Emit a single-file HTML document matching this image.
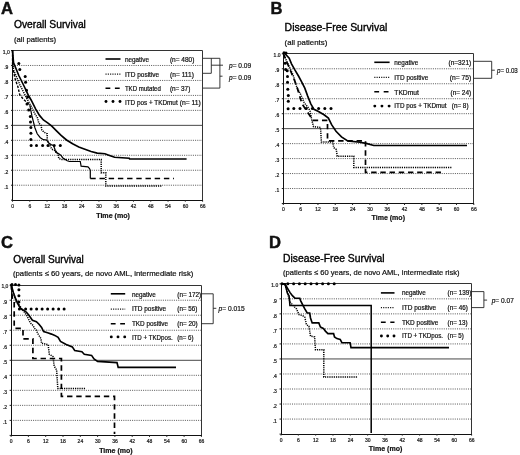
<!DOCTYPE html>
<html><head><meta charset="utf-8"><title>Survival curves</title>
<style>html,body{margin:0;padding:0;background:#fff;width:520px;height:455px;overflow:hidden;font-family:"Liberation Sans", sans-serif}</style>
</head><body>
<svg width="520" height="455" viewBox="0 0 520 455" style="position:absolute;left:0;top:0;font-family:'Liberation Sans', sans-serif;filter:blur(0.35px)">
<rect width="520" height="455" fill="#fff"/>
<text x="0.90" y="13.60" font-size="16.6" font-weight="bold" text-anchor="start" stroke="#111" stroke-width="0.45" style="" fill="#111">A</text>
<text x="13.90" y="28.20" font-size="10.3" font-weight="normal" text-anchor="start" stroke="#000" stroke-width="0.35" textLength="72" lengthAdjust="spacingAndGlyphs" style="" fill="#000">Overall Survival</text>
<text x="13.90" y="41.50" font-size="7.6" font-weight="normal" text-anchor="start" stroke="#111" stroke-width="0.2" textLength="42.3" lengthAdjust="spacingAndGlyphs" style="" fill="#111">(all patients)</text>
<line x1="12.50" y1="185.23" x2="202.60" y2="185.23" stroke="#444" stroke-width="0.9" stroke-dasharray="1 1.2" stroke-linecap="butt"/>
<line x1="12.50" y1="170.26" x2="202.60" y2="170.26" stroke="#444" stroke-width="0.9" stroke-dasharray="1 1.2" stroke-linecap="butt"/>
<line x1="12.50" y1="155.29" x2="202.60" y2="155.29" stroke="#444" stroke-width="0.9" stroke-dasharray="1 1.2" stroke-linecap="butt"/>
<line x1="12.50" y1="140.32" x2="202.60" y2="140.32" stroke="#444" stroke-width="0.9" stroke-dasharray="1 1.2" stroke-linecap="butt"/>
<line x1="12.50" y1="125.35" x2="202.60" y2="125.35" stroke="#333" stroke-width="0.9" stroke-linecap="butt"/>
<line x1="12.50" y1="110.38" x2="202.60" y2="110.38" stroke="#444" stroke-width="0.9" stroke-dasharray="1 1.2" stroke-linecap="butt"/>
<line x1="12.50" y1="95.41" x2="202.60" y2="95.41" stroke="#444" stroke-width="0.9" stroke-dasharray="1 1.2" stroke-linecap="butt"/>
<line x1="12.50" y1="80.44" x2="202.60" y2="80.44" stroke="#444" stroke-width="0.9" stroke-dasharray="1 1.2" stroke-linecap="butt"/>
<line x1="12.50" y1="65.47" x2="202.60" y2="65.47" stroke="#444" stroke-width="0.9" stroke-dasharray="1 1.2" stroke-linecap="butt"/>
<line x1="12.50" y1="50.50" x2="202.50" y2="50.50" stroke="#333" stroke-width="1.0" stroke-linecap="butt"/>
<line x1="202.50" y1="50.50" x2="202.50" y2="200.50" stroke="#333" stroke-width="1.0" stroke-linecap="butt"/>
<line x1="12.50" y1="50.00" x2="12.50" y2="201.00" stroke="#111" stroke-width="1.0" stroke-linecap="butt"/>
<line x1="12.00" y1="200.50" x2="203.00" y2="200.50" stroke="#111" stroke-width="1.0" stroke-linecap="butt"/>
<line x1="11.00" y1="200.20" x2="12.50" y2="200.20" stroke="#222" stroke-width="1" stroke-linecap="butt"/>
<line x1="11.00" y1="185.23" x2="12.50" y2="185.23" stroke="#222" stroke-width="1" stroke-linecap="butt"/>
<line x1="11.00" y1="170.26" x2="12.50" y2="170.26" stroke="#222" stroke-width="1" stroke-linecap="butt"/>
<line x1="11.00" y1="155.29" x2="12.50" y2="155.29" stroke="#222" stroke-width="1" stroke-linecap="butt"/>
<line x1="11.00" y1="140.32" x2="12.50" y2="140.32" stroke="#222" stroke-width="1" stroke-linecap="butt"/>
<line x1="11.00" y1="125.35" x2="12.50" y2="125.35" stroke="#222" stroke-width="1" stroke-linecap="butt"/>
<line x1="11.00" y1="110.38" x2="12.50" y2="110.38" stroke="#222" stroke-width="1" stroke-linecap="butt"/>
<line x1="11.00" y1="95.41" x2="12.50" y2="95.41" stroke="#222" stroke-width="1" stroke-linecap="butt"/>
<line x1="11.00" y1="80.44" x2="12.50" y2="80.44" stroke="#222" stroke-width="1" stroke-linecap="butt"/>
<line x1="11.00" y1="65.47" x2="12.50" y2="65.47" stroke="#222" stroke-width="1" stroke-linecap="butt"/>
<line x1="11.00" y1="50.50" x2="12.50" y2="50.50" stroke="#222" stroke-width="1" stroke-linecap="butt"/>
<line x1="12.50" y1="200.20" x2="12.50" y2="201.70" stroke="#222" stroke-width="1" stroke-linecap="butt"/>
<line x1="29.78" y1="200.20" x2="29.78" y2="201.70" stroke="#222" stroke-width="1" stroke-linecap="butt"/>
<line x1="47.06" y1="200.20" x2="47.06" y2="201.70" stroke="#222" stroke-width="1" stroke-linecap="butt"/>
<line x1="64.35" y1="200.20" x2="64.35" y2="201.70" stroke="#222" stroke-width="1" stroke-linecap="butt"/>
<line x1="81.63" y1="200.20" x2="81.63" y2="201.70" stroke="#222" stroke-width="1" stroke-linecap="butt"/>
<line x1="98.91" y1="200.20" x2="98.91" y2="201.70" stroke="#222" stroke-width="1" stroke-linecap="butt"/>
<line x1="116.19" y1="200.20" x2="116.19" y2="201.70" stroke="#222" stroke-width="1" stroke-linecap="butt"/>
<line x1="133.47" y1="200.20" x2="133.47" y2="201.70" stroke="#222" stroke-width="1" stroke-linecap="butt"/>
<line x1="150.75" y1="200.20" x2="150.75" y2="201.70" stroke="#222" stroke-width="1" stroke-linecap="butt"/>
<line x1="168.04" y1="200.20" x2="168.04" y2="201.70" stroke="#222" stroke-width="1" stroke-linecap="butt"/>
<line x1="185.32" y1="200.20" x2="185.32" y2="201.70" stroke="#222" stroke-width="1" stroke-linecap="butt"/>
<line x1="202.60" y1="200.20" x2="202.60" y2="201.70" stroke="#222" stroke-width="1" stroke-linecap="butt"/>
<text x="6.30" y="188.93" font-size="5.0" font-weight="normal" text-anchor="middle" stroke="#222" stroke-width="0.22" style="" fill="#222">.1</text>
<text x="6.30" y="173.96" font-size="5.0" font-weight="normal" text-anchor="middle" stroke="#222" stroke-width="0.22" style="" fill="#222">.2</text>
<text x="6.30" y="158.99" font-size="5.0" font-weight="normal" text-anchor="middle" stroke="#222" stroke-width="0.22" style="" fill="#222">.3</text>
<text x="6.30" y="144.02" font-size="5.0" font-weight="normal" text-anchor="middle" stroke="#222" stroke-width="0.22" style="" fill="#222">.4</text>
<text x="6.30" y="129.05" font-size="5.0" font-weight="normal" text-anchor="middle" stroke="#222" stroke-width="0.22" style="" fill="#222">.5</text>
<text x="6.30" y="114.08" font-size="5.0" font-weight="normal" text-anchor="middle" stroke="#222" stroke-width="0.22" style="" fill="#222">.6</text>
<text x="6.30" y="99.11" font-size="5.0" font-weight="normal" text-anchor="middle" stroke="#222" stroke-width="0.22" style="" fill="#222">.7</text>
<text x="6.30" y="84.14" font-size="5.0" font-weight="normal" text-anchor="middle" stroke="#222" stroke-width="0.22" style="" fill="#222">.8</text>
<text x="6.30" y="69.17" font-size="5.0" font-weight="normal" text-anchor="middle" stroke="#222" stroke-width="0.22" style="" fill="#222">.9</text>
<text x="6.30" y="53.50" font-size="5.0" font-weight="normal" text-anchor="middle" stroke="#222" stroke-width="0.22" style="" fill="#222">1,0</text>
<text x="12.60" y="208.00" font-size="5.0" font-weight="normal" text-anchor="middle" stroke="#222" stroke-width="0.22" style="" fill="#222">0</text>
<text x="29.88" y="208.00" font-size="5.0" font-weight="normal" text-anchor="middle" stroke="#222" stroke-width="0.22" style="" fill="#222">6</text>
<text x="47.16" y="208.00" font-size="5.0" font-weight="normal" text-anchor="middle" stroke="#222" stroke-width="0.22" style="" fill="#222">12</text>
<text x="64.45" y="208.00" font-size="5.0" font-weight="normal" text-anchor="middle" stroke="#222" stroke-width="0.22" style="" fill="#222">18</text>
<text x="81.73" y="208.00" font-size="5.0" font-weight="normal" text-anchor="middle" stroke="#222" stroke-width="0.22" style="" fill="#222">24</text>
<text x="99.01" y="208.00" font-size="5.0" font-weight="normal" text-anchor="middle" stroke="#222" stroke-width="0.22" style="" fill="#222">30</text>
<text x="116.29" y="208.00" font-size="5.0" font-weight="normal" text-anchor="middle" stroke="#222" stroke-width="0.22" style="" fill="#222">36</text>
<text x="133.57" y="208.00" font-size="5.0" font-weight="normal" text-anchor="middle" stroke="#222" stroke-width="0.22" style="" fill="#222">42</text>
<text x="150.85" y="208.00" font-size="5.0" font-weight="normal" text-anchor="middle" stroke="#222" stroke-width="0.22" style="" fill="#222">48</text>
<text x="168.14" y="208.00" font-size="5.0" font-weight="normal" text-anchor="middle" stroke="#222" stroke-width="0.22" style="" fill="#222">54</text>
<text x="185.42" y="208.00" font-size="5.0" font-weight="normal" text-anchor="middle" stroke="#222" stroke-width="0.22" style="" fill="#222">60</text>
<text x="202.70" y="208.00" font-size="5.0" font-weight="normal" text-anchor="middle" stroke="#222" stroke-width="0.22" style="" fill="#222">66</text>
<text x="96.20" y="217.80" font-size="7" font-weight="bold" text-anchor="start" stroke="#111" stroke-width="0.2" textLength="33.8" lengthAdjust="spacingAndGlyphs" style="" fill="#111">Time (mo)</text>
<text x="270.60" y="14.00" font-size="16.6" font-weight="bold" text-anchor="start" stroke="#111" stroke-width="0.45" style="" fill="#111">B</text>
<text x="284.60" y="31.00" font-size="10.3" font-weight="normal" text-anchor="start" stroke="#000" stroke-width="0.35" textLength="102.7" lengthAdjust="spacingAndGlyphs" style="" fill="#000">Disease-Free Survival</text>
<text x="284.60" y="44.60" font-size="7.6" font-weight="normal" text-anchor="start" stroke="#111" stroke-width="0.2" textLength="42.7" lengthAdjust="spacingAndGlyphs" style="" fill="#111">(all patients)</text>
<line x1="283.30" y1="188.53" x2="473.80" y2="188.53" stroke="#444" stroke-width="0.9" stroke-dasharray="1 1.2" stroke-linecap="butt"/>
<line x1="283.30" y1="173.56" x2="473.80" y2="173.56" stroke="#444" stroke-width="0.9" stroke-dasharray="1 1.2" stroke-linecap="butt"/>
<line x1="283.30" y1="158.59" x2="473.80" y2="158.59" stroke="#444" stroke-width="0.9" stroke-dasharray="1 1.2" stroke-linecap="butt"/>
<line x1="283.30" y1="143.62" x2="473.80" y2="143.62" stroke="#444" stroke-width="0.9" stroke-dasharray="1 1.2" stroke-linecap="butt"/>
<line x1="283.30" y1="128.65" x2="473.80" y2="128.65" stroke="#333" stroke-width="0.9" stroke-linecap="butt"/>
<line x1="283.30" y1="113.68" x2="473.80" y2="113.68" stroke="#444" stroke-width="0.9" stroke-dasharray="1 1.2" stroke-linecap="butt"/>
<line x1="283.30" y1="98.71" x2="473.80" y2="98.71" stroke="#444" stroke-width="0.9" stroke-dasharray="1 1.2" stroke-linecap="butt"/>
<line x1="283.30" y1="83.74" x2="473.80" y2="83.74" stroke="#444" stroke-width="0.9" stroke-dasharray="1 1.2" stroke-linecap="butt"/>
<line x1="283.30" y1="68.77" x2="473.80" y2="68.77" stroke="#444" stroke-width="0.9" stroke-dasharray="1 1.2" stroke-linecap="butt"/>
<line x1="283.50" y1="53.50" x2="473.50" y2="53.50" stroke="#333" stroke-width="1.0" stroke-linecap="butt"/>
<line x1="473.50" y1="53.50" x2="473.50" y2="203.50" stroke="#333" stroke-width="1.0" stroke-linecap="butt"/>
<line x1="283.50" y1="53.00" x2="283.50" y2="204.00" stroke="#111" stroke-width="1.0" stroke-linecap="butt"/>
<line x1="283.00" y1="203.50" x2="474.00" y2="203.50" stroke="#111" stroke-width="1.0" stroke-linecap="butt"/>
<line x1="281.80" y1="203.50" x2="283.30" y2="203.50" stroke="#222" stroke-width="1" stroke-linecap="butt"/>
<line x1="281.80" y1="188.53" x2="283.30" y2="188.53" stroke="#222" stroke-width="1" stroke-linecap="butt"/>
<line x1="281.80" y1="173.56" x2="283.30" y2="173.56" stroke="#222" stroke-width="1" stroke-linecap="butt"/>
<line x1="281.80" y1="158.59" x2="283.30" y2="158.59" stroke="#222" stroke-width="1" stroke-linecap="butt"/>
<line x1="281.80" y1="143.62" x2="283.30" y2="143.62" stroke="#222" stroke-width="1" stroke-linecap="butt"/>
<line x1="281.80" y1="128.65" x2="283.30" y2="128.65" stroke="#222" stroke-width="1" stroke-linecap="butt"/>
<line x1="281.80" y1="113.68" x2="283.30" y2="113.68" stroke="#222" stroke-width="1" stroke-linecap="butt"/>
<line x1="281.80" y1="98.71" x2="283.30" y2="98.71" stroke="#222" stroke-width="1" stroke-linecap="butt"/>
<line x1="281.80" y1="83.74" x2="283.30" y2="83.74" stroke="#222" stroke-width="1" stroke-linecap="butt"/>
<line x1="281.80" y1="68.77" x2="283.30" y2="68.77" stroke="#222" stroke-width="1" stroke-linecap="butt"/>
<line x1="281.80" y1="53.80" x2="283.30" y2="53.80" stroke="#222" stroke-width="1" stroke-linecap="butt"/>
<line x1="283.30" y1="203.50" x2="283.30" y2="205.00" stroke="#222" stroke-width="1" stroke-linecap="butt"/>
<line x1="300.62" y1="203.50" x2="300.62" y2="205.00" stroke="#222" stroke-width="1" stroke-linecap="butt"/>
<line x1="317.94" y1="203.50" x2="317.94" y2="205.00" stroke="#222" stroke-width="1" stroke-linecap="butt"/>
<line x1="335.25" y1="203.50" x2="335.25" y2="205.00" stroke="#222" stroke-width="1" stroke-linecap="butt"/>
<line x1="352.57" y1="203.50" x2="352.57" y2="205.00" stroke="#222" stroke-width="1" stroke-linecap="butt"/>
<line x1="369.89" y1="203.50" x2="369.89" y2="205.00" stroke="#222" stroke-width="1" stroke-linecap="butt"/>
<line x1="387.21" y1="203.50" x2="387.21" y2="205.00" stroke="#222" stroke-width="1" stroke-linecap="butt"/>
<line x1="404.53" y1="203.50" x2="404.53" y2="205.00" stroke="#222" stroke-width="1" stroke-linecap="butt"/>
<line x1="421.85" y1="203.50" x2="421.85" y2="205.00" stroke="#222" stroke-width="1" stroke-linecap="butt"/>
<line x1="439.16" y1="203.50" x2="439.16" y2="205.00" stroke="#222" stroke-width="1" stroke-linecap="butt"/>
<line x1="456.48" y1="203.50" x2="456.48" y2="205.00" stroke="#222" stroke-width="1" stroke-linecap="butt"/>
<line x1="473.80" y1="203.50" x2="473.80" y2="205.00" stroke="#222" stroke-width="1" stroke-linecap="butt"/>
<text x="277.10" y="192.23" font-size="5.0" font-weight="normal" text-anchor="middle" stroke="#222" stroke-width="0.22" style="" fill="#222">.1</text>
<text x="277.10" y="177.26" font-size="5.0" font-weight="normal" text-anchor="middle" stroke="#222" stroke-width="0.22" style="" fill="#222">.2</text>
<text x="277.10" y="162.29" font-size="5.0" font-weight="normal" text-anchor="middle" stroke="#222" stroke-width="0.22" style="" fill="#222">.3</text>
<text x="277.10" y="147.32" font-size="5.0" font-weight="normal" text-anchor="middle" stroke="#222" stroke-width="0.22" style="" fill="#222">.4</text>
<text x="277.10" y="132.35" font-size="5.0" font-weight="normal" text-anchor="middle" stroke="#222" stroke-width="0.22" style="" fill="#222">.5</text>
<text x="277.10" y="117.38" font-size="5.0" font-weight="normal" text-anchor="middle" stroke="#222" stroke-width="0.22" style="" fill="#222">.6</text>
<text x="277.10" y="102.41" font-size="5.0" font-weight="normal" text-anchor="middle" stroke="#222" stroke-width="0.22" style="" fill="#222">.7</text>
<text x="277.10" y="87.44" font-size="5.0" font-weight="normal" text-anchor="middle" stroke="#222" stroke-width="0.22" style="" fill="#222">.8</text>
<text x="277.10" y="72.47" font-size="5.0" font-weight="normal" text-anchor="middle" stroke="#222" stroke-width="0.22" style="" fill="#222">.9</text>
<text x="277.10" y="56.80" font-size="5.0" font-weight="normal" text-anchor="middle" stroke="#222" stroke-width="0.22" style="" fill="#222">1.0</text>
<text x="283.40" y="211.30" font-size="5.0" font-weight="normal" text-anchor="middle" stroke="#222" stroke-width="0.22" style="" fill="#222">0</text>
<text x="300.72" y="211.30" font-size="5.0" font-weight="normal" text-anchor="middle" stroke="#222" stroke-width="0.22" style="" fill="#222">6</text>
<text x="318.04" y="211.30" font-size="5.0" font-weight="normal" text-anchor="middle" stroke="#222" stroke-width="0.22" style="" fill="#222">12</text>
<text x="335.35" y="211.30" font-size="5.0" font-weight="normal" text-anchor="middle" stroke="#222" stroke-width="0.22" style="" fill="#222">18</text>
<text x="352.67" y="211.30" font-size="5.0" font-weight="normal" text-anchor="middle" stroke="#222" stroke-width="0.22" style="" fill="#222">24</text>
<text x="369.99" y="211.30" font-size="5.0" font-weight="normal" text-anchor="middle" stroke="#222" stroke-width="0.22" style="" fill="#222">30</text>
<text x="387.31" y="211.30" font-size="5.0" font-weight="normal" text-anchor="middle" stroke="#222" stroke-width="0.22" style="" fill="#222">36</text>
<text x="404.63" y="211.30" font-size="5.0" font-weight="normal" text-anchor="middle" stroke="#222" stroke-width="0.22" style="" fill="#222">42</text>
<text x="421.95" y="211.30" font-size="5.0" font-weight="normal" text-anchor="middle" stroke="#222" stroke-width="0.22" style="" fill="#222">48</text>
<text x="439.26" y="211.30" font-size="5.0" font-weight="normal" text-anchor="middle" stroke="#222" stroke-width="0.22" style="" fill="#222">54</text>
<text x="456.58" y="211.30" font-size="5.0" font-weight="normal" text-anchor="middle" stroke="#222" stroke-width="0.22" style="" fill="#222">60</text>
<text x="473.90" y="211.30" font-size="5.0" font-weight="normal" text-anchor="middle" stroke="#222" stroke-width="0.22" style="" fill="#222">66</text>
<text x="371.50" y="220.40" font-size="7" font-weight="bold" text-anchor="start" stroke="#111" stroke-width="0.2" textLength="33.5" lengthAdjust="spacingAndGlyphs" style="" fill="#111">Time (mo)</text>
<text x="1.00" y="247.60" font-size="16.6" font-weight="bold" text-anchor="start" stroke="#111" stroke-width="0.45" style="" fill="#111">C</text>
<text x="13.30" y="262.60" font-size="10.3" font-weight="normal" text-anchor="start" stroke="#000" stroke-width="0.35" textLength="70.5" lengthAdjust="spacingAndGlyphs" style="" fill="#000">Overall Survival</text>
<text x="13.00" y="276.30" font-size="7.4" font-weight="normal" text-anchor="start" stroke="#111" stroke-width="0.2" textLength="180.3" lengthAdjust="spacingAndGlyphs" style="" fill="#111">(patients ≤ 60 years, de novo AML, intermediate risk)</text>
<line x1="11.10" y1="420.38" x2="201.40" y2="420.38" stroke="#444" stroke-width="0.9" stroke-dasharray="1 1.2" stroke-linecap="butt"/>
<line x1="11.10" y1="405.36" x2="201.40" y2="405.36" stroke="#444" stroke-width="0.9" stroke-dasharray="1 1.2" stroke-linecap="butt"/>
<line x1="11.10" y1="390.34" x2="201.40" y2="390.34" stroke="#444" stroke-width="0.9" stroke-dasharray="1 1.2" stroke-linecap="butt"/>
<line x1="11.10" y1="375.32" x2="201.40" y2="375.32" stroke="#444" stroke-width="0.9" stroke-dasharray="1 1.2" stroke-linecap="butt"/>
<line x1="11.10" y1="360.30" x2="201.40" y2="360.30" stroke="#333" stroke-width="0.9" stroke-linecap="butt"/>
<line x1="11.10" y1="345.28" x2="201.40" y2="345.28" stroke="#444" stroke-width="0.9" stroke-dasharray="1 1.2" stroke-linecap="butt"/>
<line x1="11.10" y1="330.26" x2="201.40" y2="330.26" stroke="#444" stroke-width="0.9" stroke-dasharray="1 1.2" stroke-linecap="butt"/>
<line x1="11.10" y1="315.24" x2="201.40" y2="315.24" stroke="#444" stroke-width="0.9" stroke-dasharray="1 1.2" stroke-linecap="butt"/>
<line x1="11.10" y1="300.22" x2="201.40" y2="300.22" stroke="#444" stroke-width="0.9" stroke-dasharray="1 1.2" stroke-linecap="butt"/>
<line x1="11.50" y1="285.50" x2="201.50" y2="285.50" stroke="#333" stroke-width="1.0" stroke-linecap="butt"/>
<line x1="201.50" y1="285.50" x2="201.50" y2="435.50" stroke="#333" stroke-width="1.0" stroke-linecap="butt"/>
<line x1="11.50" y1="285.00" x2="11.50" y2="436.00" stroke="#111" stroke-width="1.0" stroke-linecap="butt"/>
<line x1="11.00" y1="435.50" x2="202.00" y2="435.50" stroke="#111" stroke-width="1.0" stroke-linecap="butt"/>
<line x1="9.60" y1="435.40" x2="11.10" y2="435.40" stroke="#222" stroke-width="1" stroke-linecap="butt"/>
<line x1="9.60" y1="420.38" x2="11.10" y2="420.38" stroke="#222" stroke-width="1" stroke-linecap="butt"/>
<line x1="9.60" y1="405.36" x2="11.10" y2="405.36" stroke="#222" stroke-width="1" stroke-linecap="butt"/>
<line x1="9.60" y1="390.34" x2="11.10" y2="390.34" stroke="#222" stroke-width="1" stroke-linecap="butt"/>
<line x1="9.60" y1="375.32" x2="11.10" y2="375.32" stroke="#222" stroke-width="1" stroke-linecap="butt"/>
<line x1="9.60" y1="360.30" x2="11.10" y2="360.30" stroke="#222" stroke-width="1" stroke-linecap="butt"/>
<line x1="9.60" y1="345.28" x2="11.10" y2="345.28" stroke="#222" stroke-width="1" stroke-linecap="butt"/>
<line x1="9.60" y1="330.26" x2="11.10" y2="330.26" stroke="#222" stroke-width="1" stroke-linecap="butt"/>
<line x1="9.60" y1="315.24" x2="11.10" y2="315.24" stroke="#222" stroke-width="1" stroke-linecap="butt"/>
<line x1="9.60" y1="300.22" x2="11.10" y2="300.22" stroke="#222" stroke-width="1" stroke-linecap="butt"/>
<line x1="9.60" y1="285.20" x2="11.10" y2="285.20" stroke="#222" stroke-width="1" stroke-linecap="butt"/>
<line x1="11.10" y1="435.40" x2="11.10" y2="436.90" stroke="#222" stroke-width="1" stroke-linecap="butt"/>
<line x1="28.40" y1="435.40" x2="28.40" y2="436.90" stroke="#222" stroke-width="1" stroke-linecap="butt"/>
<line x1="45.70" y1="435.40" x2="45.70" y2="436.90" stroke="#222" stroke-width="1" stroke-linecap="butt"/>
<line x1="63.00" y1="435.40" x2="63.00" y2="436.90" stroke="#222" stroke-width="1" stroke-linecap="butt"/>
<line x1="80.30" y1="435.40" x2="80.30" y2="436.90" stroke="#222" stroke-width="1" stroke-linecap="butt"/>
<line x1="97.60" y1="435.40" x2="97.60" y2="436.90" stroke="#222" stroke-width="1" stroke-linecap="butt"/>
<line x1="114.90" y1="435.40" x2="114.90" y2="436.90" stroke="#222" stroke-width="1" stroke-linecap="butt"/>
<line x1="132.20" y1="435.40" x2="132.20" y2="436.90" stroke="#222" stroke-width="1" stroke-linecap="butt"/>
<line x1="149.50" y1="435.40" x2="149.50" y2="436.90" stroke="#222" stroke-width="1" stroke-linecap="butt"/>
<line x1="166.80" y1="435.40" x2="166.80" y2="436.90" stroke="#222" stroke-width="1" stroke-linecap="butt"/>
<line x1="184.10" y1="435.40" x2="184.10" y2="436.90" stroke="#222" stroke-width="1" stroke-linecap="butt"/>
<line x1="201.40" y1="435.40" x2="201.40" y2="436.90" stroke="#222" stroke-width="1" stroke-linecap="butt"/>
<text x="4.90" y="424.08" font-size="5.0" font-weight="normal" text-anchor="middle" stroke="#222" stroke-width="0.22" style="" fill="#222">.1</text>
<text x="4.90" y="409.06" font-size="5.0" font-weight="normal" text-anchor="middle" stroke="#222" stroke-width="0.22" style="" fill="#222">.2</text>
<text x="4.90" y="394.04" font-size="5.0" font-weight="normal" text-anchor="middle" stroke="#222" stroke-width="0.22" style="" fill="#222">.3</text>
<text x="4.90" y="379.02" font-size="5.0" font-weight="normal" text-anchor="middle" stroke="#222" stroke-width="0.22" style="" fill="#222">.4</text>
<text x="4.90" y="364.00" font-size="5.0" font-weight="normal" text-anchor="middle" stroke="#222" stroke-width="0.22" style="" fill="#222">.5</text>
<text x="4.90" y="348.98" font-size="5.0" font-weight="normal" text-anchor="middle" stroke="#222" stroke-width="0.22" style="" fill="#222">.6</text>
<text x="4.90" y="333.96" font-size="5.0" font-weight="normal" text-anchor="middle" stroke="#222" stroke-width="0.22" style="" fill="#222">.7</text>
<text x="4.90" y="318.94" font-size="5.0" font-weight="normal" text-anchor="middle" stroke="#222" stroke-width="0.22" style="" fill="#222">.8</text>
<text x="4.90" y="303.92" font-size="5.0" font-weight="normal" text-anchor="middle" stroke="#222" stroke-width="0.22" style="" fill="#222">.9</text>
<text x="4.90" y="288.20" font-size="5.0" font-weight="normal" text-anchor="middle" stroke="#222" stroke-width="0.22" style="" fill="#222">1,0</text>
<text x="11.20" y="443.20" font-size="5.0" font-weight="normal" text-anchor="middle" stroke="#222" stroke-width="0.22" style="" fill="#222">0</text>
<text x="28.50" y="443.20" font-size="5.0" font-weight="normal" text-anchor="middle" stroke="#222" stroke-width="0.22" style="" fill="#222">6</text>
<text x="45.80" y="443.20" font-size="5.0" font-weight="normal" text-anchor="middle" stroke="#222" stroke-width="0.22" style="" fill="#222">12</text>
<text x="63.10" y="443.20" font-size="5.0" font-weight="normal" text-anchor="middle" stroke="#222" stroke-width="0.22" style="" fill="#222">18</text>
<text x="80.40" y="443.20" font-size="5.0" font-weight="normal" text-anchor="middle" stroke="#222" stroke-width="0.22" style="" fill="#222">24</text>
<text x="97.70" y="443.20" font-size="5.0" font-weight="normal" text-anchor="middle" stroke="#222" stroke-width="0.22" style="" fill="#222">30</text>
<text x="115.00" y="443.20" font-size="5.0" font-weight="normal" text-anchor="middle" stroke="#222" stroke-width="0.22" style="" fill="#222">36</text>
<text x="132.30" y="443.20" font-size="5.0" font-weight="normal" text-anchor="middle" stroke="#222" stroke-width="0.22" style="" fill="#222">42</text>
<text x="149.60" y="443.20" font-size="5.0" font-weight="normal" text-anchor="middle" stroke="#222" stroke-width="0.22" style="" fill="#222">48</text>
<text x="166.90" y="443.20" font-size="5.0" font-weight="normal" text-anchor="middle" stroke="#222" stroke-width="0.22" style="" fill="#222">54</text>
<text x="184.20" y="443.20" font-size="5.0" font-weight="normal" text-anchor="middle" stroke="#222" stroke-width="0.22" style="" fill="#222">60</text>
<text x="201.50" y="443.20" font-size="5.0" font-weight="normal" text-anchor="middle" stroke="#222" stroke-width="0.22" style="" fill="#222">66</text>
<text x="99.20" y="452.60" font-size="7" font-weight="bold" text-anchor="start" stroke="#111" stroke-width="0.2" textLength="33.5" lengthAdjust="spacingAndGlyphs" style="" fill="#111">Time (mo)</text>
<text x="269.00" y="248.00" font-size="16.6" font-weight="bold" text-anchor="start" stroke="#111" stroke-width="0.45" style="" fill="#111">D</text>
<text x="283.00" y="261.80" font-size="10.3" font-weight="normal" text-anchor="start" stroke="#000" stroke-width="0.35" textLength="101.6" lengthAdjust="spacingAndGlyphs" style="" fill="#000">Disease-Free Survival</text>
<text x="283.00" y="274.90" font-size="7.4" font-weight="normal" text-anchor="start" stroke="#111" stroke-width="0.2" textLength="176.6" lengthAdjust="spacingAndGlyphs" style="" fill="#111">(patients ≤ 60 years, de novo AML, intermediate risk)</text>
<line x1="281.00" y1="419.07" x2="471.60" y2="419.07" stroke="#444" stroke-width="0.9" stroke-dasharray="1 1.2" stroke-linecap="butt"/>
<line x1="281.00" y1="404.04" x2="471.60" y2="404.04" stroke="#444" stroke-width="0.9" stroke-dasharray="1 1.2" stroke-linecap="butt"/>
<line x1="281.00" y1="389.01" x2="471.60" y2="389.01" stroke="#444" stroke-width="0.9" stroke-dasharray="1 1.2" stroke-linecap="butt"/>
<line x1="281.00" y1="373.98" x2="471.60" y2="373.98" stroke="#444" stroke-width="0.9" stroke-dasharray="1 1.2" stroke-linecap="butt"/>
<line x1="281.00" y1="358.95" x2="471.60" y2="358.95" stroke="#333" stroke-width="0.9" stroke-linecap="butt"/>
<line x1="281.00" y1="343.92" x2="471.60" y2="343.92" stroke="#444" stroke-width="0.9" stroke-dasharray="1 1.2" stroke-linecap="butt"/>
<line x1="281.00" y1="328.89" x2="471.60" y2="328.89" stroke="#444" stroke-width="0.9" stroke-dasharray="1 1.2" stroke-linecap="butt"/>
<line x1="281.00" y1="313.86" x2="471.60" y2="313.86" stroke="#444" stroke-width="0.9" stroke-dasharray="1 1.2" stroke-linecap="butt"/>
<line x1="281.00" y1="298.83" x2="471.60" y2="298.83" stroke="#444" stroke-width="0.9" stroke-dasharray="1 1.2" stroke-linecap="butt"/>
<line x1="281.50" y1="283.50" x2="471.50" y2="283.50" stroke="#333" stroke-width="1.0" stroke-linecap="butt"/>
<line x1="471.50" y1="283.50" x2="471.50" y2="434.50" stroke="#333" stroke-width="1.0" stroke-linecap="butt"/>
<line x1="281.50" y1="283.00" x2="281.50" y2="435.00" stroke="#111" stroke-width="1.0" stroke-linecap="butt"/>
<line x1="281.00" y1="434.50" x2="472.00" y2="434.50" stroke="#111" stroke-width="1.0" stroke-linecap="butt"/>
<line x1="279.50" y1="434.10" x2="281.00" y2="434.10" stroke="#222" stroke-width="1" stroke-linecap="butt"/>
<line x1="279.50" y1="419.07" x2="281.00" y2="419.07" stroke="#222" stroke-width="1" stroke-linecap="butt"/>
<line x1="279.50" y1="404.04" x2="281.00" y2="404.04" stroke="#222" stroke-width="1" stroke-linecap="butt"/>
<line x1="279.50" y1="389.01" x2="281.00" y2="389.01" stroke="#222" stroke-width="1" stroke-linecap="butt"/>
<line x1="279.50" y1="373.98" x2="281.00" y2="373.98" stroke="#222" stroke-width="1" stroke-linecap="butt"/>
<line x1="279.50" y1="358.95" x2="281.00" y2="358.95" stroke="#222" stroke-width="1" stroke-linecap="butt"/>
<line x1="279.50" y1="343.92" x2="281.00" y2="343.92" stroke="#222" stroke-width="1" stroke-linecap="butt"/>
<line x1="279.50" y1="328.89" x2="281.00" y2="328.89" stroke="#222" stroke-width="1" stroke-linecap="butt"/>
<line x1="279.50" y1="313.86" x2="281.00" y2="313.86" stroke="#222" stroke-width="1" stroke-linecap="butt"/>
<line x1="279.50" y1="298.83" x2="281.00" y2="298.83" stroke="#222" stroke-width="1" stroke-linecap="butt"/>
<line x1="279.50" y1="283.80" x2="281.00" y2="283.80" stroke="#222" stroke-width="1" stroke-linecap="butt"/>
<line x1="281.00" y1="434.10" x2="281.00" y2="435.60" stroke="#222" stroke-width="1" stroke-linecap="butt"/>
<line x1="298.33" y1="434.10" x2="298.33" y2="435.60" stroke="#222" stroke-width="1" stroke-linecap="butt"/>
<line x1="315.65" y1="434.10" x2="315.65" y2="435.60" stroke="#222" stroke-width="1" stroke-linecap="butt"/>
<line x1="332.98" y1="434.10" x2="332.98" y2="435.60" stroke="#222" stroke-width="1" stroke-linecap="butt"/>
<line x1="350.31" y1="434.10" x2="350.31" y2="435.60" stroke="#222" stroke-width="1" stroke-linecap="butt"/>
<line x1="367.64" y1="434.10" x2="367.64" y2="435.60" stroke="#222" stroke-width="1" stroke-linecap="butt"/>
<line x1="384.96" y1="434.10" x2="384.96" y2="435.60" stroke="#222" stroke-width="1" stroke-linecap="butt"/>
<line x1="402.29" y1="434.10" x2="402.29" y2="435.60" stroke="#222" stroke-width="1" stroke-linecap="butt"/>
<line x1="419.62" y1="434.10" x2="419.62" y2="435.60" stroke="#222" stroke-width="1" stroke-linecap="butt"/>
<line x1="436.95" y1="434.10" x2="436.95" y2="435.60" stroke="#222" stroke-width="1" stroke-linecap="butt"/>
<line x1="454.27" y1="434.10" x2="454.27" y2="435.60" stroke="#222" stroke-width="1" stroke-linecap="butt"/>
<line x1="471.60" y1="434.10" x2="471.60" y2="435.60" stroke="#222" stroke-width="1" stroke-linecap="butt"/>
<text x="274.80" y="422.77" font-size="5.0" font-weight="normal" text-anchor="middle" stroke="#222" stroke-width="0.22" style="" fill="#222">.1</text>
<text x="274.80" y="407.74" font-size="5.0" font-weight="normal" text-anchor="middle" stroke="#222" stroke-width="0.22" style="" fill="#222">.2</text>
<text x="274.80" y="392.71" font-size="5.0" font-weight="normal" text-anchor="middle" stroke="#222" stroke-width="0.22" style="" fill="#222">.3</text>
<text x="274.80" y="377.68" font-size="5.0" font-weight="normal" text-anchor="middle" stroke="#222" stroke-width="0.22" style="" fill="#222">.4</text>
<text x="274.80" y="362.65" font-size="5.0" font-weight="normal" text-anchor="middle" stroke="#222" stroke-width="0.22" style="" fill="#222">.5</text>
<text x="274.80" y="347.62" font-size="5.0" font-weight="normal" text-anchor="middle" stroke="#222" stroke-width="0.22" style="" fill="#222">.6</text>
<text x="274.80" y="332.59" font-size="5.0" font-weight="normal" text-anchor="middle" stroke="#222" stroke-width="0.22" style="" fill="#222">.7</text>
<text x="274.80" y="317.56" font-size="5.0" font-weight="normal" text-anchor="middle" stroke="#222" stroke-width="0.22" style="" fill="#222">.8</text>
<text x="274.80" y="302.53" font-size="5.0" font-weight="normal" text-anchor="middle" stroke="#222" stroke-width="0.22" style="" fill="#222">.9</text>
<text x="274.80" y="286.80" font-size="5.0" font-weight="normal" text-anchor="middle" stroke="#222" stroke-width="0.22" style="" fill="#222">1.0</text>
<text x="281.10" y="441.90" font-size="5.0" font-weight="normal" text-anchor="middle" stroke="#222" stroke-width="0.22" style="" fill="#222">0</text>
<text x="298.43" y="441.90" font-size="5.0" font-weight="normal" text-anchor="middle" stroke="#222" stroke-width="0.22" style="" fill="#222">6</text>
<text x="315.75" y="441.90" font-size="5.0" font-weight="normal" text-anchor="middle" stroke="#222" stroke-width="0.22" style="" fill="#222">12</text>
<text x="333.08" y="441.90" font-size="5.0" font-weight="normal" text-anchor="middle" stroke="#222" stroke-width="0.22" style="" fill="#222">18</text>
<text x="350.41" y="441.90" font-size="5.0" font-weight="normal" text-anchor="middle" stroke="#222" stroke-width="0.22" style="" fill="#222">24</text>
<text x="367.74" y="441.90" font-size="5.0" font-weight="normal" text-anchor="middle" stroke="#222" stroke-width="0.22" style="" fill="#222">30</text>
<text x="385.06" y="441.90" font-size="5.0" font-weight="normal" text-anchor="middle" stroke="#222" stroke-width="0.22" style="" fill="#222">36</text>
<text x="402.39" y="441.90" font-size="5.0" font-weight="normal" text-anchor="middle" stroke="#222" stroke-width="0.22" style="" fill="#222">42</text>
<text x="419.72" y="441.90" font-size="5.0" font-weight="normal" text-anchor="middle" stroke="#222" stroke-width="0.22" style="" fill="#222">48</text>
<text x="437.05" y="441.90" font-size="5.0" font-weight="normal" text-anchor="middle" stroke="#222" stroke-width="0.22" style="" fill="#222">54</text>
<text x="454.37" y="441.90" font-size="5.0" font-weight="normal" text-anchor="middle" stroke="#222" stroke-width="0.22" style="" fill="#222">60</text>
<text x="471.70" y="441.90" font-size="5.0" font-weight="normal" text-anchor="middle" stroke="#222" stroke-width="0.22" style="" fill="#222">66</text>
<text x="368.80" y="450.80" font-size="7" font-weight="bold" text-anchor="start" stroke="#111" stroke-width="0.2" textLength="33.6" lengthAdjust="spacingAndGlyphs" style="" fill="#111">Time (mo)</text>
<line x1="105.50" y1="59.00" x2="120.50" y2="59.00" stroke="#000" stroke-width="1.6" stroke-linecap="butt"/>
<text x="124.90" y="61.90" font-size="6.4" font-weight="normal" text-anchor="start" stroke="#111" stroke-width="0.2" textLength="24.2" lengthAdjust="spacingAndGlyphs" style="" fill="#111">negative</text>
<text x="169.90" y="61.90" font-size="6.4" font-weight="normal" text-anchor="start" stroke="#111" stroke-width="0.2" textLength="24.5" lengthAdjust="spacingAndGlyphs" style="" fill="#111">(n= 480)</text>
<line x1="105.50" y1="74.10" x2="120.50" y2="74.10" stroke="#111" stroke-width="1.3" stroke-dasharray="1.1 1.2" stroke-linecap="butt"/>
<text x="124.90" y="76.60" font-size="6.4" font-weight="normal" text-anchor="start" stroke="#111" stroke-width="0.2" textLength="34.3" lengthAdjust="spacingAndGlyphs" style="" fill="#111">ITD positive</text>
<text x="170.10" y="76.60" font-size="6.4" font-weight="normal" text-anchor="start" stroke="#111" stroke-width="0.2" textLength="23.8" lengthAdjust="spacingAndGlyphs" style="" fill="#111">(n= 111)</text>
<line x1="105.50" y1="88.30" x2="120.50" y2="88.30" stroke="#000" stroke-width="1.6" stroke-dasharray="4.8 4.6" stroke-linecap="butt"/>
<text x="124.90" y="91.30" font-size="6.4" font-weight="normal" text-anchor="start" stroke="#111" stroke-width="0.2" textLength="36.0" lengthAdjust="spacingAndGlyphs" style="" fill="#111">TKD mutated</text>
<text x="169.90" y="91.30" font-size="6.4" font-weight="normal" text-anchor="start" stroke="#111" stroke-width="0.2" textLength="20.4" lengthAdjust="spacingAndGlyphs" style="" fill="#111">(n= 37)</text>
<circle cx="106.00" cy="101.50" r="1.45" fill="#000"/>
<circle cx="113.00" cy="101.50" r="1.45" fill="#000"/>
<circle cx="120.00" cy="101.50" r="1.45" fill="#000"/>
<text x="124.90" y="105.20" font-size="6.4" font-weight="normal" text-anchor="start" stroke="#111" stroke-width="0.2" textLength="52.8" lengthAdjust="spacingAndGlyphs" style="" fill="#111">ITD pos + TKDmut</text>
<text x="179.70" y="105.20" font-size="6.4" font-weight="normal" text-anchor="start" stroke="#111" stroke-width="0.2" textLength="21.2" lengthAdjust="spacingAndGlyphs" style="" fill="#111">(n= 11)</text>
<line x1="374.30" y1="62.30" x2="389.60" y2="62.30" stroke="#000" stroke-width="1.6" stroke-linecap="butt"/>
<text x="394.30" y="65.30" font-size="6.4" font-weight="normal" text-anchor="start" stroke="#111" stroke-width="0.2" textLength="24.0" lengthAdjust="spacingAndGlyphs" style="" fill="#111">negative</text>
<text x="448.50" y="65.30" font-size="6.4" font-weight="normal" text-anchor="start" stroke="#111" stroke-width="0.2" textLength="22.7" lengthAdjust="spacingAndGlyphs" style="" fill="#111">(n=321)</text>
<line x1="374.30" y1="77.30" x2="389.60" y2="77.30" stroke="#111" stroke-width="1.3" stroke-dasharray="1.1 1.2" stroke-linecap="butt"/>
<text x="394.30" y="80.10" font-size="6.4" font-weight="normal" text-anchor="start" stroke="#111" stroke-width="0.2" textLength="34.0" lengthAdjust="spacingAndGlyphs" style="" fill="#111">ITD positive</text>
<text x="449.70" y="80.10" font-size="6.4" font-weight="normal" text-anchor="start" stroke="#111" stroke-width="0.2" textLength="21.5" lengthAdjust="spacingAndGlyphs" style="" fill="#111">(n= 75)</text>
<line x1="374.30" y1="91.70" x2="389.60" y2="91.70" stroke="#000" stroke-width="1.6" stroke-dasharray="4.8 4.6" stroke-linecap="butt"/>
<text x="394.30" y="94.80" font-size="6.4" font-weight="normal" text-anchor="start" stroke="#111" stroke-width="0.2" textLength="24.5" lengthAdjust="spacingAndGlyphs" style="" fill="#111">TKDmut</text>
<text x="450.50" y="94.80" font-size="6.4" font-weight="normal" text-anchor="start" stroke="#111" stroke-width="0.2" textLength="20.7" lengthAdjust="spacingAndGlyphs" style="" fill="#111">(n= 24)</text>
<circle cx="374.80" cy="106.10" r="1.45" fill="#000"/>
<circle cx="381.95" cy="106.10" r="1.45" fill="#000"/>
<circle cx="389.10" cy="106.10" r="1.45" fill="#000"/>
<text x="394.30" y="107.80" font-size="6.4" font-weight="normal" text-anchor="start" stroke="#111" stroke-width="0.2" textLength="52.3" lengthAdjust="spacingAndGlyphs" style="" fill="#111">ITD pos + TKDmut</text>
<text x="451.80" y="107.80" font-size="6.4" font-weight="normal" text-anchor="start" stroke="#111" stroke-width="0.2" textLength="16.7" lengthAdjust="spacingAndGlyphs" style="" fill="#111">(n= 8)</text>
<line x1="110.80" y1="293.80" x2="125.20" y2="293.80" stroke="#000" stroke-width="1.6" stroke-linecap="butt"/>
<text x="131.90" y="296.70" font-size="6.4" font-weight="normal" text-anchor="start" stroke="#111" stroke-width="0.2" textLength="23.9" lengthAdjust="spacingAndGlyphs" style="" fill="#111">negative</text>
<text x="177.30" y="296.70" font-size="6.4" font-weight="normal" text-anchor="start" stroke="#111" stroke-width="0.2" textLength="23.9" lengthAdjust="spacingAndGlyphs" style="" fill="#111">(n= 172)</text>
<line x1="110.80" y1="309.20" x2="125.20" y2="309.20" stroke="#111" stroke-width="1.3" stroke-dasharray="1.1 1.2" stroke-linecap="butt"/>
<text x="131.90" y="311.30" font-size="6.4" font-weight="normal" text-anchor="start" stroke="#111" stroke-width="0.2" textLength="34.3" lengthAdjust="spacingAndGlyphs" style="" fill="#111">ITD positive</text>
<text x="177.30" y="311.30" font-size="6.4" font-weight="normal" text-anchor="start" stroke="#111" stroke-width="0.2" textLength="20.0" lengthAdjust="spacingAndGlyphs" style="" fill="#111">(n= 56)</text>
<line x1="110.80" y1="323.70" x2="125.20" y2="323.70" stroke="#000" stroke-width="1.6" stroke-dasharray="4.8 4.6" stroke-linecap="butt"/>
<text x="131.90" y="326.00" font-size="6.4" font-weight="normal" text-anchor="start" stroke="#111" stroke-width="0.2" textLength="36.2" lengthAdjust="spacingAndGlyphs" style="" fill="#111">TKD positive</text>
<text x="177.30" y="326.00" font-size="6.4" font-weight="normal" text-anchor="start" stroke="#111" stroke-width="0.2" textLength="20.3" lengthAdjust="spacingAndGlyphs" style="" fill="#111">(n= 20)</text>
<circle cx="111.30" cy="336.90" r="1.45" fill="#000"/>
<circle cx="118.00" cy="336.90" r="1.45" fill="#000"/>
<circle cx="124.70" cy="336.90" r="1.45" fill="#000"/>
<text x="131.90" y="339.50" font-size="6.4" font-weight="normal" text-anchor="start" stroke="#111" stroke-width="0.2" textLength="40.8" lengthAdjust="spacingAndGlyphs" style="" fill="#111">ITD + TKDpos.</text>
<text x="177.30" y="339.50" font-size="6.4" font-weight="normal" text-anchor="start" stroke="#111" stroke-width="0.2" textLength="16.2" lengthAdjust="spacingAndGlyphs" style="" fill="#111">(n= 6)</text>
<line x1="380.90" y1="292.90" x2="394.50" y2="292.90" stroke="#000" stroke-width="1.6" stroke-linecap="butt"/>
<text x="401.90" y="295.40" font-size="6.4" font-weight="normal" text-anchor="start" stroke="#111" stroke-width="0.2" textLength="23.9" lengthAdjust="spacingAndGlyphs" style="" fill="#111">negative</text>
<text x="447.60" y="295.40" font-size="6.4" font-weight="normal" text-anchor="start" stroke="#111" stroke-width="0.2" textLength="23.9" lengthAdjust="spacingAndGlyphs" style="" fill="#111">(n= 139)</text>
<line x1="380.90" y1="307.70" x2="394.50" y2="307.70" stroke="#111" stroke-width="1.3" stroke-dasharray="1.1 1.2" stroke-linecap="butt"/>
<text x="401.90" y="310.00" font-size="6.4" font-weight="normal" text-anchor="start" stroke="#111" stroke-width="0.2" textLength="34.3" lengthAdjust="spacingAndGlyphs" style="" fill="#111">ITD positive</text>
<text x="447.60" y="310.00" font-size="6.4" font-weight="normal" text-anchor="start" stroke="#111" stroke-width="0.2" textLength="20.2" lengthAdjust="spacingAndGlyphs" style="" fill="#111">(n= 46)</text>
<line x1="380.90" y1="322.20" x2="394.50" y2="322.20" stroke="#000" stroke-width="1.6" stroke-dasharray="4.8 4.6" stroke-linecap="butt"/>
<text x="401.90" y="324.70" font-size="6.4" font-weight="normal" text-anchor="start" stroke="#111" stroke-width="0.2" textLength="36.5" lengthAdjust="spacingAndGlyphs" style="" fill="#111">TKD positive</text>
<text x="447.60" y="324.70" font-size="6.4" font-weight="normal" text-anchor="start" stroke="#111" stroke-width="0.2" textLength="20.0" lengthAdjust="spacingAndGlyphs" style="" fill="#111">(n= 13)</text>
<circle cx="381.40" cy="336.00" r="1.45" fill="#000"/>
<circle cx="387.70" cy="336.00" r="1.45" fill="#000"/>
<circle cx="394.00" cy="336.00" r="1.45" fill="#000"/>
<text x="401.90" y="338.00" font-size="6.4" font-weight="normal" text-anchor="start" stroke="#111" stroke-width="0.2" textLength="41.1" lengthAdjust="spacingAndGlyphs" style="" fill="#111">ITD + TKDpos.</text>
<text x="447.60" y="338.00" font-size="6.4" font-weight="normal" text-anchor="start" stroke="#111" stroke-width="0.2" textLength="16.2" lengthAdjust="spacingAndGlyphs" style="" fill="#111">(n= 5)</text>
<line x1="203.00" y1="58.30" x2="219.90" y2="58.30" stroke="#222" stroke-width="0.9" stroke-linecap="butt"/>
<line x1="203.00" y1="73.30" x2="211.30" y2="73.30" stroke="#222" stroke-width="0.9" stroke-linecap="butt"/>
<line x1="211.30" y1="58.30" x2="211.30" y2="73.30" stroke="#222" stroke-width="0.9" stroke-linecap="butt"/>
<line x1="211.30" y1="65.20" x2="223.00" y2="65.20" stroke="#222" stroke-width="0.9" stroke-linecap="butt"/>
<line x1="219.90" y1="58.30" x2="219.90" y2="88.10" stroke="#222" stroke-width="0.9" stroke-linecap="butt"/>
<line x1="203.00" y1="88.10" x2="219.90" y2="88.10" stroke="#222" stroke-width="0.9" stroke-linecap="butt"/>
<line x1="219.90" y1="76.20" x2="222.50" y2="76.20" stroke="#222" stroke-width="0.9" stroke-linecap="butt"/>
<text x="229.00" y="67.90" font-size="7.0" font-weight="normal" text-anchor="start" stroke="#111" stroke-width="0.2" textLength="22.2" lengthAdjust="spacingAndGlyphs" style="" fill="#111"><tspan font-style="italic">p</tspan>= 0.09</text>
<text x="229.00" y="79.50" font-size="7.0" font-weight="normal" text-anchor="start" stroke="#111" stroke-width="0.2" textLength="22.2" lengthAdjust="spacingAndGlyphs" style="" fill="#111"><tspan font-style="italic">p</tspan>= 0.09</text>
<line x1="474.00" y1="61.30" x2="491.70" y2="61.30" stroke="#222" stroke-width="0.9" stroke-linecap="butt"/>
<line x1="474.00" y1="78.30" x2="491.70" y2="78.30" stroke="#222" stroke-width="0.9" stroke-linecap="butt"/>
<line x1="491.70" y1="61.30" x2="491.70" y2="78.30" stroke="#222" stroke-width="0.9" stroke-linecap="butt"/>
<line x1="491.70" y1="70.20" x2="494.80" y2="70.20" stroke="#222" stroke-width="0.9" stroke-linecap="butt"/>
<text x="497.00" y="72.60" font-size="7.0" font-weight="normal" text-anchor="start" stroke="#111" stroke-width="0.2" textLength="20.8" lengthAdjust="spacingAndGlyphs" style="" fill="#111"><tspan font-style="italic">p</tspan>= 0.03</text>
<line x1="201.00" y1="293.80" x2="213.20" y2="293.80" stroke="#222" stroke-width="0.9" stroke-linecap="butt"/>
<line x1="201.00" y1="323.70" x2="213.20" y2="323.70" stroke="#222" stroke-width="0.9" stroke-linecap="butt"/>
<line x1="213.20" y1="293.80" x2="213.20" y2="323.70" stroke="#222" stroke-width="0.9" stroke-linecap="butt"/>
<line x1="213.20" y1="308.30" x2="216.30" y2="308.30" stroke="#222" stroke-width="0.9" stroke-linecap="butt"/>
<text x="218.50" y="310.70" font-size="7.0" font-weight="normal" text-anchor="start" stroke="#111" stroke-width="0.2" textLength="26.1" lengthAdjust="spacingAndGlyphs" style="" fill="#111"><tspan font-style="italic">p</tspan>= 0.015</text>
<line x1="471.30" y1="291.60" x2="483.90" y2="291.60" stroke="#222" stroke-width="0.9" stroke-linecap="butt"/>
<line x1="471.30" y1="307.60" x2="483.90" y2="307.60" stroke="#222" stroke-width="0.9" stroke-linecap="butt"/>
<line x1="483.90" y1="291.60" x2="483.90" y2="307.60" stroke="#222" stroke-width="0.9" stroke-linecap="butt"/>
<line x1="483.90" y1="300.10" x2="487.10" y2="300.10" stroke="#222" stroke-width="0.9" stroke-linecap="butt"/>
<text x="491.70" y="302.80" font-size="7.0" font-weight="normal" text-anchor="start" stroke="#111" stroke-width="0.2" textLength="22.1" lengthAdjust="spacingAndGlyphs" style="" fill="#111"><tspan font-style="italic">p</tspan>= 0.07</text>
<polyline points="12.50,50.30 13.50,62.50 18.80,75.50 24.00,86.00 28.50,95.50 31.10,100.00 35.70,109.20 39.50,115.40 43.40,120.00 48.00,123.10 51.80,126.20 56.50,130.80 61.10,135.40 66.50,140.00 72.60,143.80 78.80,146.90 84.90,149.20 91.10,151.50 97.20,153.10 104.90,153.80 108.80,155.20 114.60,157.20 129.20,158.30 129.60,159.00 186.60,159.00" fill="none" stroke="#000" stroke-width="1.65" stroke-linecap="butt" stroke-linejoin="miter"/>
<polyline points="12.50,50.30 12.60,67.30 15.30,79.60 17.90,86.70 19.70,94.60 23.20,99.00 29.80,105.10" fill="none" stroke="#000" stroke-width="1.4" stroke-dasharray="2.5 1.5" stroke-linecap="butt" stroke-linejoin="miter"/>
<polyline points="29.80,105.10 31.80,115.40 34.90,127.70 37.20,133.80 40.30,137.70 43.40,139.70 46.50,140.00 48.80,143.10 51.10,144.60 53.40,145.40 54.90,149.20 55.70,152.30 58.80,153.80 61.10,155.40 62.60,157.70 64.90,159.20 67.20,160.80 69.50,161.50 80.30,161.50 81.10,166.20 88.00,166.90 89.50,168.50 90.30,170.30 90.30,178.50" fill="none" stroke="#000" stroke-width="1.2" stroke-linecap="butt" stroke-linejoin="miter"/>
<polyline points="90.30,178.50 174.00,178.50" fill="none" stroke="#000" stroke-width="1.7" stroke-dasharray="5.4 3.8" stroke-linecap="butt" stroke-linejoin="miter"/>
<polyline points="12.50,50.30 13.50,70.00 20.00,85.00 26.00,97.00 31.00,106.00 35.70,115.40 37.20,116.90 38.80,123.10 41.10,125.40 41.80,130.00 44.20,132.30 47.20,133.80 47.20,140.00 49.50,144.60 51.80,149.20 55.70,150.80 58.00,153.80 58.80,158.50 61.80,159.50 101.20,159.50 101.20,172.70 105.80,172.70 105.80,186.10 162.40,186.10" fill="none" stroke="#000" stroke-width="1.5" stroke-dasharray="1.2 1.0" stroke-linecap="butt" stroke-linejoin="miter"/>
<circle cx="18.80" cy="63.60" r="1.5" fill="#000"/>
<circle cx="19.80" cy="69.40" r="1.5" fill="#000"/>
<circle cx="25.20" cy="76.40" r="1.5" fill="#000"/>
<circle cx="25.60" cy="82.30" r="1.5" fill="#000"/>
<circle cx="26.50" cy="90.20" r="1.5" fill="#000"/>
<circle cx="27.60" cy="97.00" r="1.5" fill="#000"/>
<circle cx="27.00" cy="104.00" r="1.5" fill="#000"/>
<circle cx="28.70" cy="110.00" r="1.5" fill="#000"/>
<circle cx="30.30" cy="116.60" r="1.5" fill="#000"/>
<circle cx="30.50" cy="122.00" r="1.5" fill="#000"/>
<circle cx="30.90" cy="127.50" r="1.5" fill="#000"/>
<circle cx="30.90" cy="133.30" r="1.5" fill="#000"/>
<circle cx="30.90" cy="139.60" r="1.5" fill="#000"/>
<circle cx="31.10" cy="145.40" r="1.5" fill="#000"/>
<circle cx="36.50" cy="145.40" r="1.5" fill="#000"/>
<circle cx="42.60" cy="145.40" r="1.5" fill="#000"/>
<circle cx="48.00" cy="145.40" r="1.5" fill="#000"/>
<circle cx="54.20" cy="145.40" r="1.5" fill="#000"/>
<circle cx="60.30" cy="145.40" r="1.5" fill="#000"/>
<polyline points="283.30,53.20 284.60,53.30 289.20,58.10 291.50,63.80 295.00,70.20 298.50,76.00 301.90,82.30 304.80,88.10 307.70,96.10 310.80,103.80 314.00,109.30 318.50,111.50 324.00,114.80 328.40,118.10 331.60,124.70 336.00,131.30 341.50,136.90 347.70,140.90 360.00,142.20 366.20,143.40 373.80,145.50 467.00,145.50" fill="none" stroke="#000" stroke-width="1.65" stroke-linecap="butt" stroke-linejoin="miter"/>
<polyline points="283.30,53.20 287.00,62.00 293.20,75.30 296.50,86.30 300.90,95.00 304.20,102.70 308.60,108.20 310.00,110.80 311.70,119.60 313.50,126.60 320.50,127.50 321.40,141.90 332.80,141.90 333.70,147.70 336.30,149.50 337.20,156.30 353.80,156.30 353.80,167.50 451.70,167.50" fill="none" stroke="#000" stroke-width="1.5" stroke-dasharray="1.2 1.0" stroke-linecap="butt" stroke-linejoin="miter"/>
<polyline points="283.30,53.20 286.00,60.00 291.00,72.00 296.00,84.00 302.00,103.80 313.00,120.30 327.50,120.30 327.50,140.90 365.50,140.90 365.50,172.30 443.00,172.30" fill="none" stroke="#000" stroke-width="1.7" stroke-dasharray="5.4 3.8" stroke-linecap="butt" stroke-linejoin="miter"/>
<circle cx="284.00" cy="52.80" r="1.5" fill="#000"/>
<circle cx="286.00" cy="53.00" r="1.5" fill="#000"/>
<circle cx="285.20" cy="63.30" r="1.5" fill="#000"/>
<circle cx="285.60" cy="69.60" r="1.5" fill="#000"/>
<circle cx="287.20" cy="70.80" r="1.5" fill="#000"/>
<circle cx="287.50" cy="76.50" r="1.5" fill="#000"/>
<circle cx="287.50" cy="82.30" r="1.5" fill="#000"/>
<circle cx="287.80" cy="89.20" r="1.5" fill="#000"/>
<circle cx="288.30" cy="95.60" r="1.5" fill="#000"/>
<circle cx="288.30" cy="101.30" r="1.5" fill="#000"/>
<circle cx="288.10" cy="108.80" r="1.5" fill="#000"/>
<circle cx="293.80" cy="108.50" r="1.5" fill="#000"/>
<circle cx="300.00" cy="108.50" r="1.5" fill="#000"/>
<circle cx="306.20" cy="108.50" r="1.5" fill="#000"/>
<circle cx="312.40" cy="108.50" r="1.5" fill="#000"/>
<circle cx="318.60" cy="108.50" r="1.5" fill="#000"/>
<circle cx="324.80" cy="108.50" r="1.5" fill="#000"/>
<circle cx="331.00" cy="108.50" r="1.5" fill="#000"/>
<polyline points="11.10,284.40 11.30,284.60 13.30,292.60 15.30,297.80 17.20,302.40 19.20,306.40 21.20,309.00 23.80,310.40 26.50,312.30 29.10,315.60 32.40,320.30 36.40,321.60 39.00,324.20 41.60,327.50 43.60,331.50 47.60,332.80 51.50,334.10 54.80,335.40 58.10,337.40 60.50,341.50 66.20,344.50 72.30,346.90 74.70,350.50 81.90,351.70 84.30,354.20 91.60,355.40 94.00,359.00 97.60,361.40 117.00,362.60 118.20,367.40 176.00,367.40" fill="none" stroke="#000" stroke-width="1.65" stroke-linecap="butt" stroke-linejoin="miter"/>
<polyline points="11.10,284.40 12.40,299.00 14.20,301.00 14.20,328.40 23.00,328.40 23.00,338.90 32.90,338.90 32.90,358.50 61.40,358.50 61.40,396.40 114.50,396.40 114.50,434.00" fill="none" stroke="#000" stroke-width="1.7" stroke-dasharray="5.4 3.8" stroke-linecap="butt" stroke-linejoin="miter"/>
<polyline points="11.10,284.40 13.00,292.00 15.00,298.00 15.90,301.80 18.60,304.40 22.00,309.00 26.50,315.00 30.40,322.90 33.10,325.50 34.40,328.20 36.40,330.20 37.70,333.50 39.00,335.40 41.00,338.70 41.50,343.30 48.10,344.50 49.30,354.20 53.00,356.60 54.20,366.20 56.60,369.90 57.80,388.50 85.60,388.50" fill="none" stroke="#000" stroke-width="1.5" stroke-dasharray="1.2 1.0" stroke-linecap="butt" stroke-linejoin="miter"/>
<circle cx="12.00" cy="284.40" r="1.5" fill="#000"/>
<circle cx="15.50" cy="284.40" r="1.5" fill="#000"/>
<circle cx="18.90" cy="285.00" r="1.5" fill="#000"/>
<circle cx="18.90" cy="289.70" r="1.5" fill="#000"/>
<circle cx="18.90" cy="295.80" r="1.5" fill="#000"/>
<circle cx="18.90" cy="302.00" r="1.5" fill="#000"/>
<circle cx="19.40" cy="309.00" r="1.5" fill="#000"/>
<circle cx="25.60" cy="309.00" r="1.5" fill="#000"/>
<circle cx="31.10" cy="309.00" r="1.5" fill="#000"/>
<circle cx="36.60" cy="309.00" r="1.5" fill="#000"/>
<circle cx="42.10" cy="309.00" r="1.5" fill="#000"/>
<circle cx="47.60" cy="309.00" r="1.5" fill="#000"/>
<circle cx="53.10" cy="309.00" r="1.5" fill="#000"/>
<circle cx="58.60" cy="309.00" r="1.5" fill="#000"/>
<circle cx="64.10" cy="309.00" r="1.5" fill="#000"/>
<circle cx="282.00" cy="283.80" r="1.5" fill="#000"/>
<circle cx="287.80" cy="283.80" r="1.5" fill="#000"/>
<circle cx="293.60" cy="283.80" r="1.5" fill="#000"/>
<circle cx="299.40" cy="283.80" r="1.5" fill="#000"/>
<circle cx="305.20" cy="283.80" r="1.5" fill="#000"/>
<circle cx="311.00" cy="283.80" r="1.5" fill="#000"/>
<circle cx="316.80" cy="283.80" r="1.5" fill="#000"/>
<circle cx="322.60" cy="283.80" r="1.5" fill="#000"/>
<circle cx="328.40" cy="283.80" r="1.5" fill="#000"/>
<circle cx="334.20" cy="283.80" r="1.5" fill="#000"/>
<polyline points="281.00,283.80 285.00,284.00 286.60,289.90 287.40,293.20 289.10,295.70 289.90,305.50 371.20,305.50 371.20,433.00" fill="none" stroke="#000" stroke-width="1.5" stroke-linecap="butt" stroke-linejoin="miter"/>
<polyline points="281.00,283.80 285.00,284.00 289.90,292.40 292.40,295.70 294.90,298.20 299.80,298.20 300.60,300.60 303.10,305.60 304.80,308.90 307.20,313.00 309.70,313.00 310.50,318.00 312.20,322.90 318.80,322.90 320.40,327.00 323.70,328.70 325.40,331.20 327.90,333.60 333.60,333.60 334.50,336.90 336.90,338.60 340.20,339.40 341.90,342.70 350.10,342.70 351.00,347.60 449.00,347.60" fill="none" stroke="#000" stroke-width="1.65" stroke-linecap="butt" stroke-linejoin="miter"/>
<polyline points="281.00,283.80 285.00,284.50 286.60,289.90 289.90,301.50 292.40,304.80 296.50,308.90 299.00,314.70 302.30,315.50 304.80,317.10 306.40,324.60 308.90,326.20 310.50,336.10 314.60,336.90 315.50,349.80 323.80,349.80 323.80,377.00 358.00,377.00" fill="none" stroke="#000" stroke-width="1.5" stroke-dasharray="1.2 1.0" stroke-linecap="butt" stroke-linejoin="miter"/>
</svg>
</body></html>
